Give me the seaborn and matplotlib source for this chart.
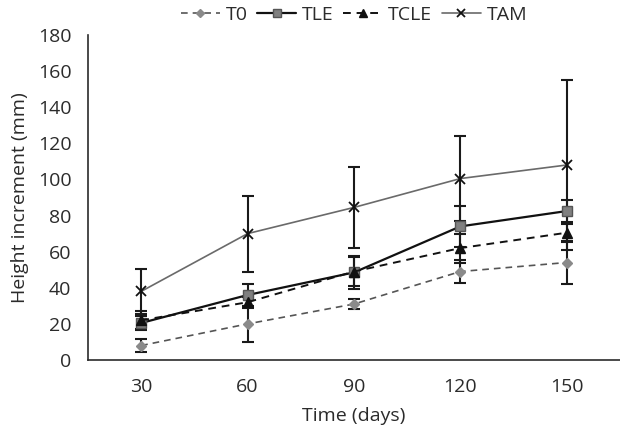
import matplotlib
matplotlib.use("Agg")
import matplotlib.pyplot as plt
import seaborn as sns
import pandas as pd
import numpy as np

days = ["30", "60", "90", "120", "150"]
t0 = [8, 20, 31, 49, 54]
t0_err = [3.5, 10, 3, 6.5, 12]
tle = [20.5, 36, 48.5, 74, 82.5]
tle_err = [4, 6, 9, 11.5, 6]
tcle = [22, 32, 49, 62, 70.5]
tcle_err = [5, 3, 8, 8, 5]
tam = [38, 70, 84.5, 100.5, 108]
tam_err = [12.5, 21, 22.5, 23.5, 47]

sns.set_theme(style="white")
plt.rcParams['font.family'] = ['Open Sans', 'DejaVu Sans']
plt.rcParams['text.color'] = '#2b2b2b'
plt.rcParams['axes.labelcolor'] = '#2b2b2b'
plt.rcParams['xtick.color'] = '#2b2b2b'
plt.rcParams['ytick.color'] = '#2b2b2b'

fig = plt.figure(figsize=(6.2, 4.33), dpi=100)
ax = fig.add_axes([88/620, 73/433, 532/620, 325/433])

pos = np.arange(len(days))
series = [
    ("T0", t0, t0_err, dict(color="#555555", ls=(0, (4, 3)), lw=1.2, marker="D", ms=5, mfc="#8a8a8a", mec="#8a8a8a")),
    ("TLE", tle, tle_err, dict(color="#111111", ls="-", lw=1.6, marker="s", ms=7, mfc="#808080", mec="#555555")),
    ("TCLE", tcle, tcle_err, dict(color="#111111", ls=(0, (4, 3)), lw=1.4, marker="^", ms=7, mfc="#111111", mec="#111111")),
    ("TAM", tam, tam_err, dict(color="#6a6a6a", ls="-", lw=1.2, marker="x", ms=7, mfc="#111111", mec="#111111", mew=1.3)),
]

for name, vals, errs, st in series:
    ax.errorbar(pos, vals, yerr=errs, fmt="none", ecolor="#1a1a1a", elinewidth=1.5, capsize=4, capthick=1.5, zorder=2)

for name, vals, errs, st in series:
    df = pd.DataFrame({"x": pos, "y": vals})
    sns.lineplot(data=df, x="x", y="y", ax=ax, label=name, color=st["color"], linestyle=st["ls"],
                 linewidth=st["lw"], marker=st["marker"], markersize=st["ms"],
                 markerfacecolor=st["mfc"], markeredgecolor=st["mec"],
                 markeredgewidth=st.get("mew", 1.0), zorder=3)

ax.set_xlim(-0.5, 4.5)
ax.set_ylim(0, 180)
ax.set_yticks(np.arange(0, 181, 20))
ax.set_xticks(pos)
ax.set_xticklabels(days)
ax.set_xticks(np.arange(-0.5, 4.6, 1), minor=True)
ax.tick_params(axis="x", which="major", length=0, labelsize=14, pad=13)
ax.tick_params(axis="x", which="minor", length=6, width=1.2, color="#2b2b2b", direction="out")
ax.tick_params(axis="y", which="major", length=6, width=1.2, color="#2b2b2b", direction="out", labelsize=14, pad=6)
ax.set_xlabel("Time (days)", fontsize=14, labelpad=8)
ax.set_ylabel("Height increment (mm)", fontsize=14, labelpad=6)

for s in ["top", "right"]:
    ax.spines[s].set_visible(False)
for s in ["left", "bottom"]:
    ax.spines[s].set_color("#2b2b2b")
    ax.spines[s].set_linewidth(1.2)

leg = ax.legend(loc="center", bbox_to_anchor=(0.5, 1.062), ncol=4, frameon=False, fontsize=14,
                handlelength=2.0, columnspacing=0.5, handletextpad=0.3, markerscale=0.85)

fig.savefig("out.png", dpi=100)
